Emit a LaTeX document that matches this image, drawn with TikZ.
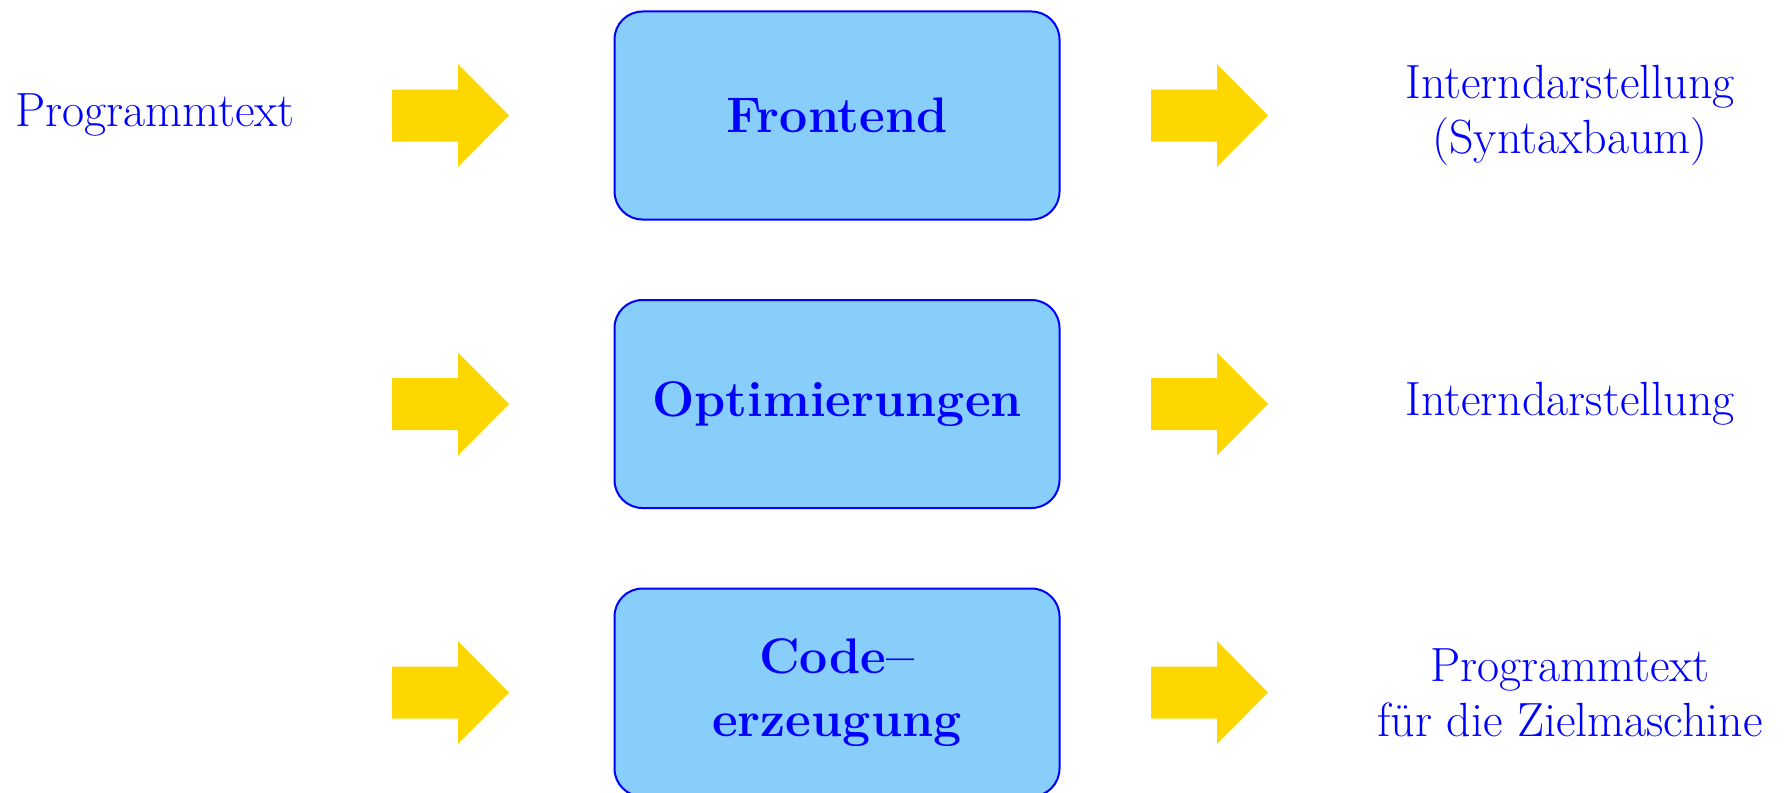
\documentclass[tikz,border=0pt]{standalone}
\definecolor{boxfill}{HTML}{87CEFA}
\definecolor{txtblue}{HTML}{0000FF}
\definecolor{arrowgold}{HTML}{FFD700}
\tikzset{
  stage/.style={draw=txtblue, line width=2pt, fill=boxfill, rounded corners=28pt,
    minimum width=445pt, minimum height=208pt, text=txtblue,
    font=\fontsize{50}{63}\selectfont\bfseries, align=center, inner sep=0pt},
  txtlabel/.style={text=txtblue, font=\fontsize{48}{55}\selectfont, align=center, inner sep=0pt},
  blockarrow/.pic={\fill[arrowgold] (0,-26) -- (66,-26) -- (66,-51.5) -- (117,0)
    -- (66,51.5) -- (66,26) -- (0,26) -- cycle;}
}
\begin{document}
\begin{tikzpicture}[x=1pt,y=-1pt]
\useasboundingbox (0,0) rectangle (1790,792);
% stages
\node[stage] (fe)  at (837,115.5) {Frontend};
\node[stage] (opt) at (837,404) {Optimierungen};
\node[stage] (cg)  at (837,692.5) {Code--\\erzeugung};
% texts
\node[txtlabel] (src) at (155,115.5) {Programmtext};
\node[txtlabel] (ir1) at (1570,115.5) {Interndarstellung\\(Syntaxbaum)};
\node[txtlabel] (ir2) at (1570,404) {Interndarstellung};
\node[txtlabel] (tgt) at (1570,692.5) {Programmtext\\f\"ur die Zielmaschine};
% arrows
\pic at (392,115.5) {blockarrow};
\pic at (392,404) {blockarrow};
\pic at (392,692.5) {blockarrow};
\pic at (1151,115.5) {blockarrow};
\pic at (1151,404) {blockarrow};
\pic at (1151,692.5) {blockarrow};
\end{tikzpicture}
\end{document}
